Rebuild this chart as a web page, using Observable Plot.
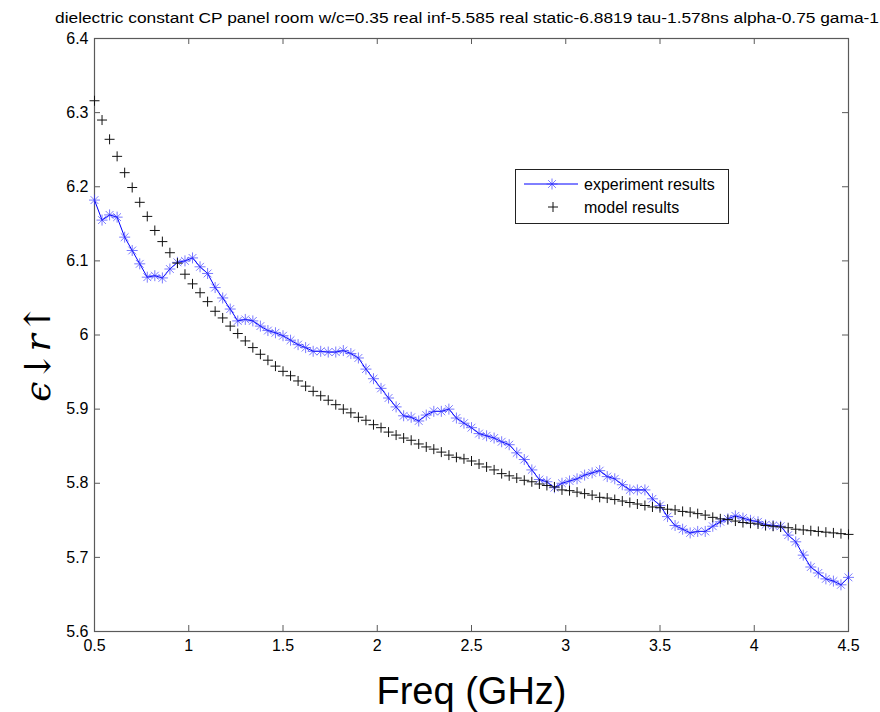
<!DOCTYPE html>
<html>
<head>
<meta charset="utf-8">
<script src="https://cdn.jsdelivr.net/npm/d3@7"></script>
<script src="https://cdn.jsdelivr.net/npm/@observablehq/plot@0.6"></script>
<style>
  html, body { margin: 0; padding: 0; background: #fff; }
  #chart { width: 880px; height: 712px; }
  svg { font-family: "Liberation Sans", Arial, sans-serif; }
</style>
</head>
<body>
<div id="chart"></div>
<script>
const titleText = "dielectric constant CP panel room w/c=0.35 real inf-5.585 real static-6.8819 tau-1.578ns alpha-0.75 gama-1";
const xLabel = "Freq (GHz)";
const yLabel = "ϵ↓r↑";
const seriesNames = ["experiment results", "model results"];

const freq = [0.50,0.54,0.58,0.62,0.66,0.70,0.74,0.78,0.82,0.86,0.90,0.94,0.98,1.02,1.06,1.10,1.14,1.18,1.22,1.26,
  1.30,1.34,1.38,1.42,1.46,1.50,1.54,1.58,1.62,1.66,1.70,1.74,1.78,1.82,1.86,1.90,1.94,1.98,2.02,2.06,
  2.10,2.14,2.18,2.22,2.26,2.30,2.34,2.38,2.42,2.46,2.50,2.54,2.58,2.62,2.66,2.70,2.74,2.78,2.82,2.86,
  2.90,2.94,2.98,3.02,3.06,3.10,3.14,3.18,3.22,3.26,3.30,3.34,3.38,3.42,3.46,3.50,3.54,3.58,3.62,3.66,
  3.70,3.74,3.78,3.82,3.86,3.90,3.94,3.98,4.02,4.06,4.10,4.14,4.18,4.22,4.26,4.30,4.34,4.38,4.42,4.46,4.50];

const experiment = [6.182,6.155,6.162,6.159,6.132,6.114,6.096,6.078,6.080,6.077,6.089,6.098,6.100,6.104,6.092,6.083,6.064,6.050,6.035,6.019,
  6.021,6.019,6.012,6.006,6.003,5.999,5.993,5.987,5.983,5.978,5.978,5.977,5.977,5.979,5.975,5.969,5.954,5.941,5.928,5.915,
  5.903,5.891,5.889,5.884,5.892,5.897,5.897,5.900,5.888,5.881,5.875,5.867,5.864,5.861,5.856,5.852,5.841,5.832,5.818,5.805,
  5.802,5.794,5.800,5.803,5.806,5.811,5.814,5.817,5.809,5.806,5.798,5.791,5.791,5.791,5.779,5.770,5.755,5.743,5.738,5.733,
  5.735,5.735,5.742,5.748,5.752,5.756,5.753,5.750,5.748,5.744,5.743,5.742,5.730,5.721,5.703,5.687,5.679,5.671,5.668,5.663,5.673];

const model = [6.316,6.290,6.264,6.241,6.219,6.199,6.179,6.160,6.141,6.126,6.111,6.097,6.082,6.069,6.057,6.045,6.032,6.023,6.012,6.002,
  5.992,5.983,5.974,5.966,5.958,5.951,5.945,5.938,5.931,5.924,5.918,5.912,5.906,5.900,5.895,5.889,5.885,5.879,5.875,5.869,
  5.865,5.861,5.858,5.853,5.849,5.846,5.842,5.838,5.835,5.833,5.830,5.826,5.822,5.818,5.813,5.810,5.807,5.804,5.802,5.799,
  5.797,5.795,5.791,5.790,5.788,5.786,5.784,5.781,5.780,5.778,5.776,5.774,5.772,5.770,5.768,5.767,5.765,5.764,5.762,5.761,
  5.759,5.757,5.754,5.752,5.751,5.749,5.747,5.746,5.745,5.743,5.742,5.741,5.740,5.738,5.737,5.736,5.735,5.734,5.733,5.732,5.731];

const xTicks = [0.5, 1, 1.5, 2, 2.5, 3, 3.5, 4, 4.5];
const xTickLabels = ["0.5", "1", "1.5", "2", "2.5", "3", "3.5", "4", "4.5"];
const yTicks = [5.6, 5.7, 5.8, 5.9, 6.0, 6.1, 6.2, 6.3, 6.4];
const yTickLabels = ["5.6", "5.7", "5.8", "5.9", "6", "6.1", "6.2", "6.3", "6.4"];

const expData = freq.map((f, i) => ({f, v: experiment[i]}));
const modData = freq.map((f, i) => ({f, v: model[i]}));

// MATLAB-like marker shapes
const plusSymbol = {
  draw(ctx, size) {
    const r = Math.sqrt(size / Math.PI);
    ctx.moveTo(-r, 0); ctx.lineTo(r, 0);
    ctx.moveTo(0, -r); ctx.lineTo(0, r);
  }
};
const starSymbol = {
  draw(ctx, size) {
    const r = Math.sqrt(size / Math.PI);
    const d = r * Math.SQRT1_2;
    ctx.moveTo(-r, 0); ctx.lineTo(r, 0);
    ctx.moveTo(0, -r); ctx.lineTo(0, r);
    ctx.moveTo(-d, -d); ctx.lineTo(d, d);
    ctx.moveTo(-d, d); ctx.lineTo(d, -d);
  }
};

const W = 880, H = 712;
const mL = 94, mR = 32, mT = 38, mB = 81;
const plotH = H - mT - mB;
const plotW = W - mL - mR;
const tickLen = 6;
const axisColor = "#5a5a5a";

const chart = Plot.plot({
  width: W,
  height: H,
  marginLeft: mL,
  marginRight: mR,
  marginTop: mT,
  marginBottom: mB,
  style: {background: "#fff", fontFamily: "'Liberation Sans', Arial, sans-serif", overflow: "visible"},
  x: {domain: [0.5, 4.5], axis: null},
  y: {domain: [5.6, 6.4], axis: null},
  marks: [
    // inward ticks on all four sides
    Plot.ruleX(xTicks, {x: d => d, insetTop: plotH - tickLen, stroke: axisColor, strokeWidth: 1}),
    Plot.ruleX(xTicks, {x: d => d, insetBottom: plotH - tickLen, stroke: axisColor, strokeWidth: 1}),
    Plot.ruleY(yTicks, {y: d => d, insetRight: plotW - tickLen, stroke: axisColor, strokeWidth: 1}),
    Plot.ruleY(yTicks, {y: d => d, insetLeft: plotW - tickLen, stroke: axisColor, strokeWidth: 1}),
    Plot.frame({stroke: axisColor, strokeWidth: 1.2}),
    // tick labels
    Plot.text(xTicks, {x: d => d, text: (d, i) => xTickLabels[i], frameAnchor: "bottom", lineAnchor: "middle", dy: 14, fontSize: 16, fill: "#000"}),
    Plot.text(yTicks, {y: d => d, text: (d, i) => yTickLabels[i], frameAnchor: "left", textAnchor: "end", lineAnchor: "middle", dx: -6, fontSize: 16, fill: "#000"}),
    // data
    Plot.line(expData, {x: "f", y: "v", stroke: "#0000ff", strokeWidth: 1}),
    Plot.dot(expData, {x: "f", y: "v", symbol: starSymbol, r: 5.5, stroke: "#3333ff", strokeOpacity: 0.65, strokeWidth: 1, fill: "none"}),
    Plot.dot(modData, {x: "f", y: "v", symbol: plusSymbol, r: 5, stroke: "#111", strokeWidth: 1, fill: "none"}),
    // axis titles
    Plot.text([xLabel], {frameAnchor: "bottom", lineAnchor: "middle", textAnchor: "middle", dy: 60, fontSize: 38, fill: "#000", text: d => d})
  ]
});

document.getElementById("chart").appendChild(chart);

const svg = d3.select(chart);

// title (MATLAB places it above the box; it runs past the right edge)
svg.append("text").attr("x", 55).attr("y", 22.5).attr("text-anchor", "start")
  .attr("font-size", 15.5).attr("fill", "#000")
  .attr("textLength", 824).attr("lengthAdjust", "spacingAndGlyphs")
  .text(titleText);

// y axis label (rotated)
svg.append("text").attr("transform", "translate(50,353) rotate(-90)")
  .attr("text-anchor", "middle").attr("font-size", 36).attr("font-style", "italic")
  .attr("font-family", "'DejaVu Serif', serif").attr("fill", "#000")
  .text(yLabel);

// legend
const lg = svg.append("g").attr("class", "legend").attr("text-anchor", "start");
lg.append("rect").attr("x", 515.5).attr("y", 169.5).attr("width", 213).attr("height", 54)
  .attr("fill", "#fff").attr("stroke", "#222").attr("stroke-width", 1);
lg.append("line").attr("x1", 524).attr("x2", 578).attr("y1", 184).attr("y2", 184)
  .attr("stroke", "#0000ff").attr("stroke-width", 1);
const sp = d3.path(); starSymbol.draw(sp, 5.5 * 5.5 * Math.PI);
lg.append("path").attr("d", sp.toString()).attr("transform", "translate(552,184)")
  .attr("stroke", "#3333ff").attr("stroke-opacity", 0.65).attr("fill", "none");
const pp = d3.path(); plusSymbol.draw(pp, 5 * 5 * Math.PI);
lg.append("path").attr("d", pp.toString()).attr("transform", "translate(553,207)")
  .attr("stroke", "#111").attr("fill", "none");
lg.append("text").attr("x", 584).attr("y", 189.5).attr("font-size", 16).attr("fill", "#000").text(seriesNames[0]);
lg.append("text").attr("x", 584).attr("y", 212.5).attr("font-size", 16).attr("fill", "#000").text(seriesNames[1]);
</script>
</body>
</html>
